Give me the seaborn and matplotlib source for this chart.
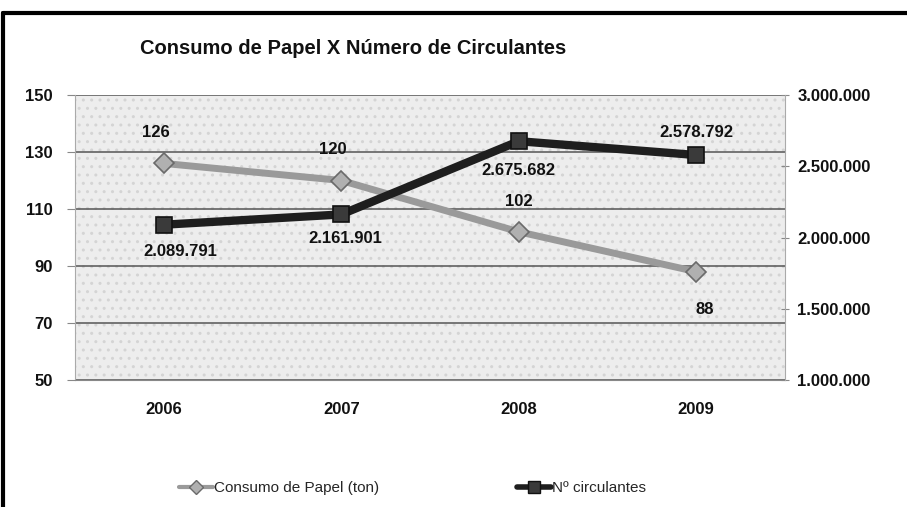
import matplotlib
matplotlib.use("Agg")
import matplotlib.pyplot as plt
import seaborn as sns
import pandas as pd
from matplotlib.lines import Line2D
from matplotlib.ticker import FuncFormatter

years = ["2006", "2007", "2008", "2009"]
consumo = [126, 120, 102, 88]
circulantes = [2089791, 2161901, 2675682, 2578792]
left_ticks = [50, 70, 90, 110, 130, 150]
right_ticks = [1000000, 1500000, 2000000, 2500000, 3000000]
title = "Consumo de Papel X Número de Circulantes"
label_consumo = "Consumo de Papel (ton)"
label_circ = "Nº circulantes"

df = pd.DataFrame({"ano": years, "consumo": consumo, "circulantes": circulantes})

sns.set_style("white")
plt.rcParams["font.family"] = ["Liberation Sans", "DejaVu Sans"]

fig = plt.figure(figsize=(9.07, 5.07), dpi=100)
ax = fig.add_axes([75 / 907, 1 - 380 / 507, 710 / 907, 285 / 507])
ax2 = ax.twinx()

# patterned background
ax.set_facecolor("#ededed")
ax.patch.set_hatch("..")
ax.patch.set_edgecolor("#d4d4d4")
ax.patch.set_linewidth(0)

gray = "#9a9a9a"
dark = "#1e1e1e"

sns.lineplot(data=df, x="ano", y="consumo", ax=ax, color=gray, lw=5,
             marker="D", markersize=10, markerfacecolor="#b0b0b0",
             markeredgecolor="#6a6a6a", markeredgewidth=1.2, sort=False,
             label=label_consumo, legend=False, zorder=3)
sns.lineplot(data=df, x="ano", y="circulantes", ax=ax2, color=dark, lw=6,
             marker="s", markersize=11, markerfacecolor="#3a3a3a",
             markeredgecolor="#111111", markeredgewidth=1.2, sort=False,
             label=label_circ, legend=False, zorder=3)

ax.set_xlim(-0.5, 3.5)
ax.set_ylim(50, 150)
ax2.set_ylim(1000000, 3000000)
ax.set_yticks(left_ticks)
ax2.set_yticks(right_ticks)
ax2.yaxis.set_major_formatter(FuncFormatter(lambda v, p: f"{int(v):,}".replace(",", ".")))

ax.grid(axis="y", color="#555555", lw=1.1)
ax.set_axisbelow(True)
ax.set_xlabel("")
ax.set_ylabel("")
ax2.set_ylabel("")

for sp in ["top", "right", "bottom", "left"]:
    ax.spines[sp].set_visible(False)
    ax2.spines[sp].set_visible(False)
ax.spines["left"].set_visible(True)
ax.spines["left"].set_color("#aaaaaa")
ax.spines["bottom"].set_visible(True)
ax.spines["bottom"].set_color("#888888")
ax2.spines["right"].set_visible(True)
ax2.spines["right"].set_color("#aaaaaa")

ax.tick_params(axis="y", length=6, color="#888888", labelsize=12, pad=10)
ax2.tick_params(axis="y", length=6, color="#888888", labelsize=12, pad=6,
                direction="inout")
ax.set_xticks(range(len(years)))
ax.set_xticklabels(years)
ax.set_xticks([-0.5, 0.5, 1.5, 2.5, 3.5], minor=True)
ax.tick_params(axis="x", which="major", length=0, labelsize=12, pad=16)
ax.tick_params(axis="x", which="minor", length=5, color="#888888")
for t in ax.get_xticklabels() + ax.get_yticklabels() + ax2.get_yticklabels():
    t.set_fontweight("bold")
    t.set_color("#111111")

# data labels
offs_c = [(-6, 22), (-6, 22), (0, 22), (6, -27)]
for i, v in enumerate(consumo):
    ax.annotate(f"{v}", (i, v), xytext=offs_c[i], textcoords="offset points",
                ha="center", va="center", fontsize=12, fontweight="bold",
                color="#111111", zorder=5)
offs_n = [(12, -19), (3, -17), (0, -21), (0, 16)]
for i, v in enumerate(circulantes):
    ax2.annotate(f"{v:,}".replace(",", "."), (i, v), xytext=offs_n[i],
                 textcoords="offset points", ha="center", va="center",
                 fontsize=12, fontweight="bold", color="#111111", zorder=5)

fig.text(140 / 907, 1 - 48 / 507, title, fontsize=14.5, fontweight="bold",
         ha="left", va="center", color="#111111")

handles = [Line2D([], [], color=gray, lw=3, marker="D", markersize=7,
                  markerfacecolor="#b0b0b0", markeredgecolor="#6a6a6a"),
           Line2D([], [], color=dark, lw=4, marker="s", markersize=8,
                  markerfacecolor="#3a3a3a", markeredgecolor="#111111")]
fig.legend(handles, [label_consumo, label_circ], loc="center",
           bbox_to_anchor=(0.455, 1 - 488 / 507), ncol=2, frameon=False,
           fontsize=11, handlelength=2.2, handletextpad=0.1, columnspacing=9)

# outer frame (scan border)
fig.add_artist(Line2D([0.003, 0.003], [0, 1 - 13 / 507], color="black", lw=3,
                      transform=fig.transFigure))
fig.add_artist(Line2D([0.003, 1], [1 - 13 / 507, 1 - 13 / 507], color="black", lw=3,
                      transform=fig.transFigure))

fig.savefig("out.png", dpi=100)
